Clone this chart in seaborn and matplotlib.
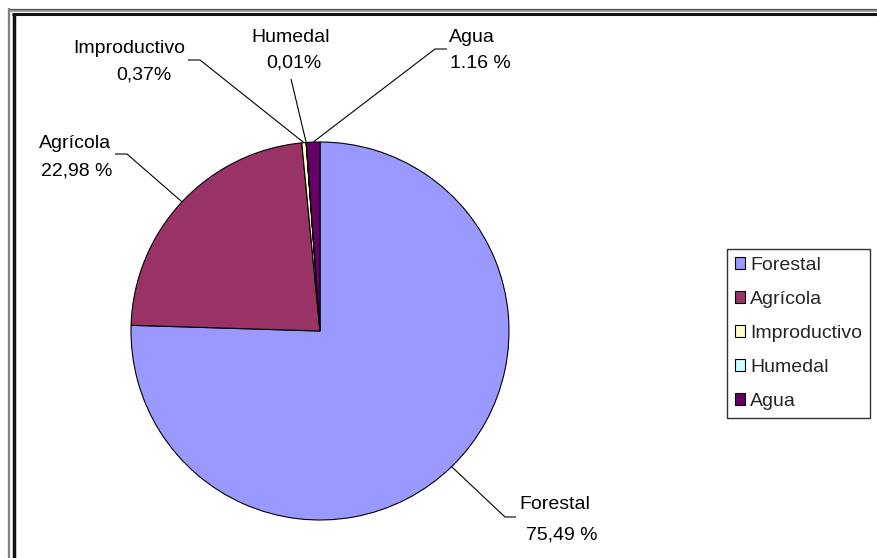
import numpy as np
import matplotlib
matplotlib.use("Agg")
import matplotlib.pyplot as plt
import seaborn as sns

# Land use shares (percent of total area)
categories = ["Forestal", "Agrícola", "Improductivo", "Humedal", "Agua"]
shares = [75.49, 22.98, 0.37, 0.01, 1.16]
share_labels = ["75,49 %", "22,98 %", "0,37%", "0,01%", "1.16 %"]
hex_colors = ["#9999FF", "#993366", "#FFFFCC", "#CCFFFF", "#660066"]

sns.set_style("white")
plt.rcParams["font.family"] = ["Liberation Sans", "DejaVu Sans"]
palette = sns.color_palette(hex_colors)

W, H = 878, 558
fig = plt.figure(figsize=(W / 100, H / 100), dpi=100)
ax = fig.add_axes([0, 0, 1, 1])

def px(x, y):
    """Pixel position (origin top-left) -> data coords of the full-figure axes."""
    return x, H - y

center_px = (320, 331)
radius = 189
cx, cy = px(*center_px)

wedges, _ = ax.pie(
    shares, colors=palette, startangle=90, counterclock=False,
    center=(cx, cy), radius=radius, frame=True,
    wedgeprops=dict(edgecolor="black", linewidth=0.8, antialiased=True),
)
ax.set_xlim(0, W)
ax.set_ylim(0, H)
ax.set_aspect("auto")
ax.axis("off")

# Label placement: name baseline, value baseline, leader path (elbow points)
layout = [
    dict(name=(555, 509), value=(562, 539), path=[(505, 517), (516, 517)]),
    dict(name=(75, 148), value=(77, 175), path=[(127, 154), (115, 154)]),
    dict(name=(129, 53), value=(144, 80), path=[(200, 60), (188, 60)]),
    dict(name=(291, 42), value=(294, 68), path=[(291, 79)]),
    dict(name=(472, 42), value=(480, 68), path=[(435, 49), (447, 49)]),
]

fs = 14
for w, cat, lab, lay in zip(wedges, categories, share_labels, layout):
    mid = np.deg2rad((w.theta1 + w.theta2) / 2)
    start = (cx + radius * np.cos(mid), cy + radius * np.sin(mid))
    pts = [start] + [px(*p) for p in lay["path"]]
    xs, ys = zip(*pts)
    ax.plot(xs, ys, color="black", lw=0.8, solid_capstyle="butt")
    ax.text(*px(*lay["name"]), cat, ha="center", va="baseline", fontsize=fs, color="black")
    ax.text(*px(*lay["value"]), lab, ha="center", va="baseline", fontsize=fs, color="black")

# Legend
leg = ax.legend(
    wedges, categories, loc="upper left", bbox_to_anchor=px(727, 249),
    bbox_transform=ax.transData, borderaxespad=0, fontsize=fs,
    frameon=True, fancybox=False, shadow=False, edgecolor="black",
    handlelength=0.55, handleheight=0.55, handletextpad=0.25,
    labelspacing=0.88, borderpad=0.4,
)
leg.get_frame().set_linewidth(1.0)
leg.get_frame().set_facecolor("white")

# Chart area border (double line along top and left)
ax.fill_between([8, W], [H - 9.3] * 2, [H - 12.3] * 2, color="#a0a0a0", lw=0, clip_on=False)
ax.plot([8, W], [H - 8.5] * 2, color="#505050", lw=0.9, clip_on=False)
ax.plot([12.5, W], [H - 13.8] * 2, color="#111111", lw=2.2, clip_on=False, solid_capstyle="butt")
ax.plot([9, 9], [H - 8, 0], color="#808080", lw=1.6, clip_on=False, solid_capstyle="butt")
ax.plot([14.2, 14.2], [H - 12.5, 0], color="#111111", lw=2.5, clip_on=False, solid_capstyle="butt")

fig.savefig("out.png", dpi=100)
